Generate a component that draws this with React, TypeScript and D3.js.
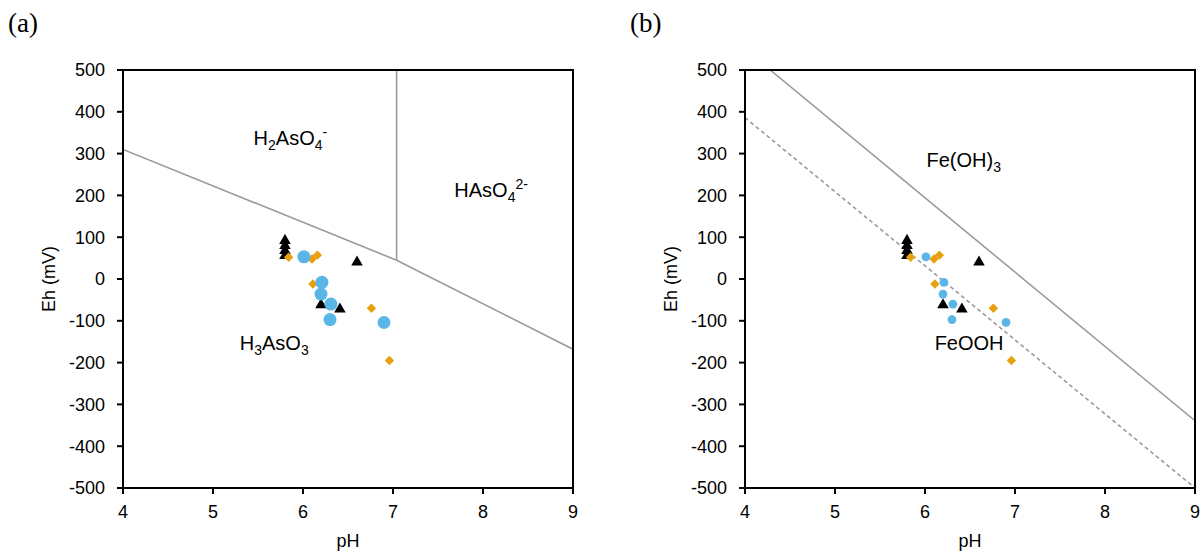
import React from 'react';
import * as d3 from 'd3';

// Axis ticks
const PH_TICKS = [4, 5, 6, 7, 8, 9];
const EH_TICKS = [500, 400, 300, 200, 100, 0, -100, -200, -300, -400, -500];

// Groundwater samples: [pH, Eh (mV)]
const CIRCLE_SAMPLES: [number, number][] = [
  [6.01, 53], [6.21, -8], [6.2, -36], [6.31, -60], [6.3, -97], [6.9, -104],
];
const DIAMOND_SAMPLES: [number, number][] = [
  [5.84, 52], [6.1, 48], [6.16, 57], [6.11, -12], [6.76, -70], [6.96, -195],
];
const TRIANGLE_SAMPLES: [number, number][] = [
  [5.8, 92], [5.8, 80], [5.8, 68], [5.8, 56], [6.6, 40], [6.2, -62], [6.41, -72],
];

// Stability field boundaries
const ARSENITE_BOUNDARY: [number, number][] = [[4, 310], [7.04, 45], [9, -168]];
const ARSENATE_SPLIT: [number, number][] = [[7.04, 500], [7.04, 45]];
const FE_OH3_BOUNDARY: [number, number][] = [[4.28, 500], [9, -339]];
const FEOOH_BOUNDARY: [number, number][] = [[4, 386], [9, -500]];

const FONT = '"Liberation Sans", Arial, sans-serif';
const BLUE = '#5AB6E6';
const ORANGE = '#E8A00E';
const LINE_GREY = '#9a9a9a';

type Part = { t: string; sub?: boolean; sup?: boolean };
type Label = { ph: number; eh: number; parts: Part[] };

const PLOT_TOP = 70;
const PLOT_H = 418;
const PLOT_W = 450;

function Species({ x, y, parts }: { x: number; y: number; parts: Part[] }) {
  const fs = 20;
  const shiftOf = (q?: Part) => (q?.sub ? 5 : q?.sup ? -8 : 0);
  return (
    <text x={x} y={y + fs * 0.35} textAnchor="middle" fontFamily={FONT} fontSize={fs} fill="#000">
      {parts.map((p, i) => (
        <tspan key={i} dy={shiftOf(p) - shiftOf(parts[i - 1])} fontSize={p.sub || p.sup ? 14 : fs}>
          {p.t}
        </tspan>
      ))}
    </text>
  );
}

function Panel({
  left,
  tag,
  lines,
  labels,
  circleR,
}: {
  left: number;
  tag: string;
  lines: { pts: [number, number][]; dash?: string }[];
  labels: Label[];
  circleR: number;
}) {
  const x = d3.scaleLinear().domain([4, 9]).range([left, left + PLOT_W]);
  const y = d3.scaleLinear().domain([-500, 500]).range([PLOT_TOP + PLOT_H, PLOT_TOP]);
  const line = d3
    .line<[number, number]>()
    .x((d) => x(d[0]))
    .y((d) => y(d[1]));
  const tri = d3.symbol().type(d3.symbolTriangle).size(58)();
  const dia = d3.symbol().type(d3.symbolSquare).size(44)();
  const clipId = `clip-${tag}`;
  const bottom = PLOT_TOP + PLOT_H;

  return (
    <g>
      <text x={left - 115} y={32} fontFamily='"Liberation Serif", "Times New Roman", serif' fontSize={27}>
        ({tag})
      </text>
      <clipPath id={clipId}>
        <rect x={left} y={PLOT_TOP} width={PLOT_W} height={PLOT_H} />
      </clipPath>
      <g clipPath={`url(#${clipId})`}>
        {lines.map((l, i) => (
          <path key={i} d={line(l.pts) || ''} fill="none" stroke={LINE_GREY} strokeWidth={1.6} strokeDasharray={l.dash} />
        ))}
      </g>
      {labels.map((lb, i) => (
        <Species key={i} x={x(lb.ph)} y={y(lb.eh)} parts={lb.parts} />
      ))}
      {TRIANGLE_SAMPLES.map((d, i) => (
        <path key={`t${i}`} d={tri || ''} transform={`translate(${x(d[0])},${y(d[1])})`} fill="#000" />
      ))}
      {DIAMOND_SAMPLES.map((d, i) => (
        <path key={`d${i}`} d={dia || ''} transform={`translate(${x(d[0])},${y(d[1])}) rotate(45)`} fill={ORANGE} />
      ))}
      {CIRCLE_SAMPLES.map((d, i) => (
        <circle key={`c${i}`} cx={x(d[0])} cy={y(d[1])} r={circleR} fill={BLUE} />
      ))}
      <rect x={left} y={PLOT_TOP} width={PLOT_W} height={PLOT_H} fill="none" stroke="#000" strokeWidth={2} />
      {EH_TICKS.map((t) => (
        <g key={`y${t}`}>
          <line x1={left - 6} x2={left} y1={y(t)} y2={y(t)} stroke="#000" strokeWidth={2} />
          <text x={left - 18} y={y(t)} dy="0.35em" textAnchor="end" fontFamily={FONT} fontSize={18}>
            {t}
          </text>
        </g>
      ))}
      {PH_TICKS.map((t) => (
        <g key={`x${t}`}>
          <line x1={x(t)} x2={x(t)} y1={bottom} y2={bottom + 6} stroke="#000" strokeWidth={2} />
          <text x={x(t)} y={bottom + 24} dy="0.35em" textAnchor="middle" fontFamily={FONT} fontSize={18}>
            {t}
          </text>
        </g>
      ))}
      <text x={left + PLOT_W / 2} y={541} dy="0.35em" textAnchor="middle" fontFamily={FONT} fontSize={18}>
        pH
      </text>
      <text
        transform={`translate(${left - 74},${PLOT_TOP + PLOT_H / 2}) rotate(-90)`}
        dy="0.35em"
        textAnchor="middle"
        fontFamily={FONT}
        fontSize={18}
      >
        Eh (mV)
      </text>
    </g>
  );
}

export default function App() {
  return (
    <svg width={1204} height={552} style={{ position: 'absolute', left: 0, top: 0, background: '#fff' }}>
      <rect width={1204} height={552} fill="#fff" />
      <Panel
        left={123}
        tag="a"
        circleR={6.5}
        lines={[{ pts: ARSENITE_BOUNDARY }, { pts: ARSENATE_SPLIT }]}
        labels={[
          { ph: 5.86, eh: 337, parts: [{ t: 'H' }, { t: '2', sub: true }, { t: 'AsO' }, { t: '4', sub: true }, { t: '-', sup: true }] },
          { ph: 8.09, eh: 213, parts: [{ t: 'HAsO' }, { t: '4', sub: true }, { t: '2-', sup: true }] },
          { ph: 5.68, eh: -153, parts: [{ t: 'H' }, { t: '3', sub: true }, { t: 'AsO' }, { t: '3', sub: true }] },
        ]}
      />
      <Panel
        left={745}
        tag="b"
        circleR={4.4}
        lines={[{ pts: FE_OH3_BOUNDARY }, { pts: FEOOH_BOUNDARY, dash: '4,3' }]}
        labels={[
          { ph: 6.43, eh: 285, parts: [{ t: 'Fe(OH)' }, { t: '3', sub: true }] },
          { ph: 6.49, eh: -152, parts: [{ t: 'FeOOH' }] },
        ]}
      />
    </svg>
  );
}
